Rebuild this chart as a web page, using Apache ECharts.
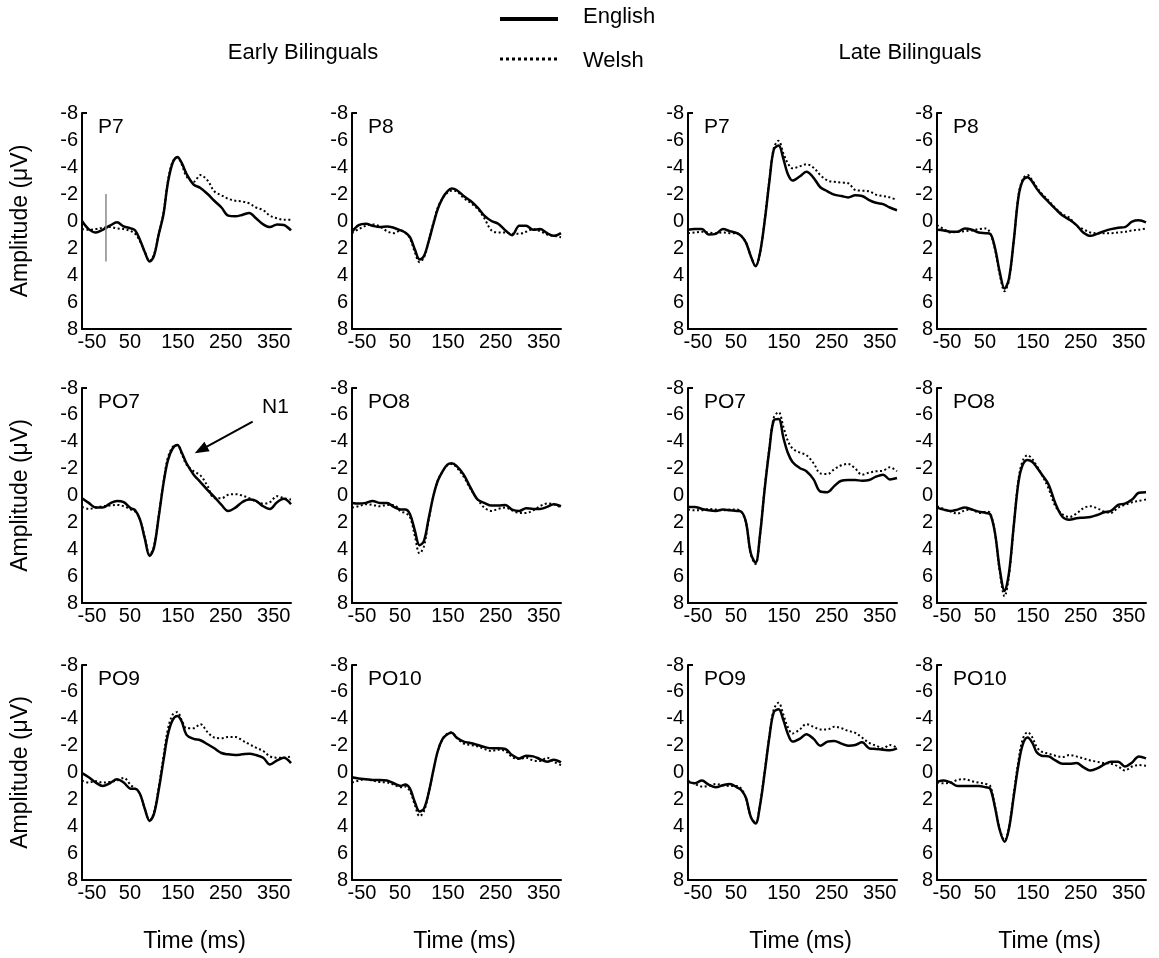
<!DOCTYPE html>
<html>
<head>
<meta charset="utf-8">
<script src="https://cdn.jsdelivr.net/npm/echarts@6/dist/echarts.min.js"></script>
<style>
  html, body { margin: 0; padding: 0; background: #fff; }
  #chart { width: 1159px; height: 958px; }
</style>
</head>
<body>
<div id="chart"></div>
<script>
// time points (ms) shared by every waveform
const TIMES = [-50, -36, -21, -7, 8, 23, 37, 52, 61, 71, 81, 91, 100, 110, 120, 129, 139, 149, 158, 168,
  183, 197, 212, 226, 241, 255, 270, 284, 299, 313, 328, 342, 357, 371, 386];
const X_TICKS = [-50, 50, 150, 250, 350];
const Y_TICKS = [-8, -6, -4, -2, 0, 2, 4, 6, 8];
const PANEL_NAMES = ['P7', 'P8', 'P7', 'P8', 'PO7', 'PO8', 'PO7', 'PO8', 'PO9', 'PO10', 'PO9', 'PO10'];
const GROUPS = ['Early Bilinguals', 'Late Bilinguals'];
const LANGS = ['English', 'Welsh'];
const ONSET_MARK = [[0, -2], [0, 3]];

// amplitudes (µV), negative up
const EARLY_P7_EN = [0, 0.6, 0.85, 0.65, 0.35, 0.1, 0.4, 0.55, 0.7, 1.4, 2.3, 3.0, 2.6, 1.0, -0.5, -2.8, -4.3, -4.75, -4.3, -3.5, -2.7, -2.45, -2.0, -1.5, -1.0, -0.4, -0.35, -0.45, -0.6, -0.2, 0.25, 0.45, 0.25, 0.3, 0.7];
const EARLY_P7_CY = [0.6, 0.65, 0.6, 0.5, 0.45, 0.55, 0.6, 0.75, 0.95, 1.5, 2.3, 2.95, 2.5, 1.0, -0.6, -2.9, -4.4, -4.7, -4.2, -3.3, -2.9, -3.4, -3.0, -2.2, -1.9, -1.65, -1.5, -1.45, -1.3, -1.0, -0.8, -0.4, -0.2, -0.1, -0.1];
const EARLY_P8_EN = [0.8, 0.3, 0.2, 0.35, 0.45, 0.4, 0.5, 0.7, 0.85, 1.2, 2.1, 2.85, 2.6, 1.5, 0.2, -0.9, -1.7, -2.2, -2.4, -2.3, -1.85, -1.5, -1.0, -0.4, 0.0, 0.2, 0.7, 1.05, 0.35, 0.35, 0.65, 0.6, 0.9, 1.1, 0.9];
const EARLY_P8_CY = [0.9, 0.6, 0.35, 0.25, 0.4, 0.75, 0.9, 0.7, 0.85, 1.3, 2.3, 3.05, 2.7, 1.5, 0.1, -1.0, -1.7, -2.1, -2.25, -2.2, -1.7, -1.35, -0.9, -0.2, 0.7, 0.85, 0.85, 0.95, 0.95, 0.8, 0.6, 0.75, 1.0, 1.1, 1.2];
const LATE_P7_EN = [0.65, 0.6, 0.6, 1.0, 0.95, 0.6, 0.75, 0.9, 1.1, 1.6, 2.6, 3.35, 2.4, 0.0, -3.0, -5.3, -5.6, -4.6, -3.5, -3.0, -3.3, -3.65, -3.2, -2.5, -2.2, -1.95, -1.85, -1.75, -1.9, -1.85, -1.55, -1.35, -1.25, -1.0, -0.8];
const LATE_P7_CY = [0.9, 0.85, 0.8, 0.85, 0.9, 0.85, 0.9, 0.9, 1.1, 1.6, 2.6, 3.35, 2.4, -0.1, -3.1, -5.4, -5.95, -5.0, -4.3, -3.9, -4.05, -4.2, -3.95, -3.4, -3.0, -2.9, -2.85, -2.8, -2.3, -2.25, -2.2, -1.95, -1.85, -1.75, -1.55];
const LATE_P8_EN = [0.65, 0.7, 0.8, 0.8, 0.55, 0.65, 0.85, 0.9, 0.95, 2.0, 3.8, 5.0, 4.3, 1.5, -1.8, -3.0, -3.25, -2.9, -2.4, -1.95, -1.4, -0.9, -0.4, -0.1, 0.3, 0.85, 1.1, 0.95, 0.75, 0.6, 0.5, 0.45, 0.05, -0.05, 0.1];
const LATE_P8_CY = [0.3, 0.6, 0.85, 0.8, 0.75, 0.7, 0.6, 0.55, 0.9, 2.1, 4.0, 5.2, 4.4, 1.5, -1.9, -3.1, -3.4, -3.0, -2.5, -2.05, -1.5, -0.95, -0.5, -0.25, 0.35, 0.6, 0.85, 0.9, 0.9, 0.9, 0.85, 0.8, 0.7, 0.65, 0.55];
const EARLY_PO7_EN = [0.2, 0.55, 0.9, 0.9, 0.6, 0.4, 0.5, 0.95, 1.1, 1.8, 3.2, 4.5, 3.9, 1.6, -0.9, -2.6, -3.5, -3.75, -3.2, -2.4, -1.55, -1.0, -0.4, 0.1, 0.7, 1.15, 0.9, 0.5, 0.3, 0.4, 0.8, 1.0, 0.5, 0.25, 0.65];
const EARLY_PO7_CY = [0.85, 1.0, 0.9, 0.8, 0.75, 0.7, 0.8, 1.05, 1.2, 1.8, 3.1, 4.4, 3.8, 1.5, -1.0, -2.8, -3.6, -3.75, -3.1, -2.3, -1.8, -1.5, -0.7, 0.2, 0.2, -0.05, -0.1, 0.0, 0.2, 0.45, 0.6, 0.5, 0.05, 0.2, 0.3];
const EARLY_PO8_EN = [0.55, 0.6, 0.55, 0.4, 0.55, 0.55, 0.85, 1.05, 1.05, 1.4, 2.6, 3.7, 3.4, 1.7, 0.0, -1.1, -1.8, -2.3, -2.4, -2.2, -1.55, -0.6, 0.3, 0.55, 0.75, 0.75, 0.7, 1.05, 1.15, 0.95, 1.0, 1.0, 0.85, 0.65, 0.8];
const EARLY_PO8_CY = [0.9, 0.8, 0.65, 0.7, 0.8, 0.7, 0.7, 1.2, 1.3, 1.6, 3.0, 4.3, 3.8, 1.8, 0.0, -1.1, -1.8, -2.25, -2.35, -2.1, -1.4, -0.5, 0.3, 0.9, 1.15, 1.0, 0.9, 1.1, 1.3, 1.3, 1.1, 0.8, 0.6, 0.65, 0.9];
const LATE_PO7_EN = [0.85, 0.85, 1.0, 1.1, 1.15, 1.05, 1.1, 1.15, 1.2, 2.0, 4.3, 5.0, 3.0, -0.5, -3.5, -5.6, -5.7, -4.3, -3.2, -2.5, -2.05, -1.8, -1.2, -0.3, -0.25, -0.7, -1.1, -1.15, -1.15, -1.1, -1.15, -1.4, -1.55, -1.2, -1.3];
const LATE_PO7_CY = [1.05, 1.1, 1.1, 1.0, 1.05, 1.1, 1.05, 1.05, 1.2, 2.0, 4.4, 5.1, 3.0, -0.6, -3.6, -5.8, -6.2, -5.1, -4.1, -3.5, -3.2, -3.0, -2.4, -1.65, -1.6, -1.95, -2.25, -2.35, -2.0, -1.55, -1.7, -1.8, -1.85, -2.1, -1.8];
const LATE_PO8_EN = [0.9, 1.05, 1.15, 1.05, 0.9, 1.05, 1.2, 1.3, 1.4, 2.8, 5.5, 7.1, 5.8, 2.3, -1.0, -2.3, -2.65, -2.5, -2.1, -1.6, -0.8, 0.6, 1.6, 1.8, 1.7, 1.65, 1.6, 1.45, 1.25, 1.15, 0.7, 0.6, 0.3, -0.2, -0.25];
const LATE_PO8_CY = [0.8, 1.0, 1.2, 1.35, 1.1, 1.05, 1.3, 1.2, 1.3, 2.8, 5.7, 7.5, 6.0, 2.3, -1.2, -2.6, -3.0, -2.7, -2.2, -1.6, -0.5, 0.8, 1.4, 1.6, 1.35, 0.95, 0.8, 0.95, 1.2, 1.3, 0.9, 0.7, 0.5, 0.4, 0.3];
const EARLY_PO9_EN = [0.05, 0.35, 0.75, 1.0, 0.8, 0.5, 0.75, 1.2, 1.2, 1.6, 2.7, 3.6, 3.1, 1.3, -0.9, -2.8, -3.9, -4.2, -3.8, -2.8, -2.5, -2.4, -2.1, -1.8, -1.45, -1.35, -1.3, -1.35, -1.4, -1.3, -1.1, -0.6, -0.9, -1.1, -0.7];
const EARLY_PO9_CY = [0.6, 0.75, 0.65, 0.75, 0.7, 0.6, 0.4, 0.95, 1.2, 1.6, 2.7, 3.55, 3.0, 1.1, -1.2, -3.2, -4.3, -4.5, -3.9, -3.3, -3.3, -3.6, -3.0, -2.6, -2.55, -2.65, -2.65, -2.4, -2.1, -1.85, -1.6, -1.2, -1.1, -1.1, -1.2];
const EARLY_PO10_EN = [0.35, 0.45, 0.5, 0.55, 0.55, 0.6, 0.8, 1.0, 0.9, 1.2, 2.2, 2.9, 2.7, 1.5, -0.2, -1.6, -2.5, -2.85, -2.95, -2.6, -2.3, -2.2, -2.05, -1.9, -1.8, -1.8, -1.75, -1.3, -1.05, -1.25, -1.2, -1.0, -0.8, -0.95, -0.75];
const EARLY_PO10_CY = [0.75, 0.6, 0.5, 0.6, 0.7, 0.75, 0.9, 1.1, 1.05, 1.4, 2.4, 3.25, 2.9, 1.5, -0.2, -1.6, -2.5, -2.9, -3.0, -2.6, -2.15, -2.05, -1.95, -1.75, -1.6, -1.7, -1.6, -1.15, -1.0, -1.1, -0.9, -0.85, -1.1, -0.8, -0.55];
const LATE_PO9_EN = [0.7, 0.8, 0.6, 0.9, 1.1, 0.95, 0.85, 1.1, 1.3, 1.9, 3.3, 3.8, 2.5, 0.0, -2.7, -4.5, -4.7, -3.9, -2.9, -2.3, -2.5, -2.85, -2.5, -2.0, -2.3, -2.35, -2.15, -2.0, -2.05, -2.25, -1.8, -1.75, -1.7, -1.65, -1.8];
const LATE_PO9_CY = [0.6, 0.85, 1.05, 1.0, 0.85, 0.95, 1.0, 1.0, 1.2, 1.9, 3.3, 3.75, 2.4, -0.1, -2.8, -4.7, -5.2, -4.3, -3.4, -2.9, -3.2, -3.6, -3.4, -3.2, -3.2, -3.4, -3.3, -3.1, -2.95, -2.6, -2.2, -2.0, -1.8, -2.05, -1.85];
const LATE_PO10_EN = [0.7, 0.6, 0.75, 1.0, 1.0, 1.0, 1.0, 1.1, 1.2, 2.6, 4.3, 5.15, 4.2, 1.8, -0.6, -2.1, -2.6, -2.2, -1.5, -1.25, -1.2, -0.9, -0.65, -0.65, -0.7, -0.4, -0.15, -0.3, -0.6, -0.8, -0.8, -0.45, -0.75, -1.2, -1.05];
const LATE_PO10_CY = [0.75, 0.8, 0.75, 0.55, 0.5, 0.65, 0.75, 0.85, 1.0, 2.5, 4.2, 5.05, 4.1, 1.6, -0.9, -2.5, -3.0, -2.6, -1.9, -1.55, -1.4, -1.25, -1.15, -1.3, -1.2, -1.05, -0.9, -0.8, -0.7, -0.65, -0.45, -0.15, -0.45, -0.55, -0.5];

// row-major, 4 panels per row
const PANEL_DATA = [
  [EARLY_P7_EN, EARLY_P7_CY], [EARLY_P8_EN, EARLY_P8_CY], [LATE_P7_EN, LATE_P7_CY], [LATE_P8_EN, LATE_P8_CY],
  [EARLY_PO7_EN, EARLY_PO7_CY], [EARLY_PO8_EN, EARLY_PO8_CY], [LATE_PO7_EN, LATE_PO7_CY], [LATE_PO8_EN, LATE_PO8_CY],
  [EARLY_PO9_EN, EARLY_PO9_CY], [EARLY_PO10_EN, EARLY_PO10_CY], [LATE_PO9_EN, LATE_PO9_CY], [LATE_PO10_EN, LATE_PO10_CY],
];

const COL_LEFT = [82, 352, 688, 937];
const ROW_TOP = [113, 388, 665];
const PANEL_W = 209;
const PANEL_H = 216;
const FONT = '"Liberation Sans", Arial, sans-serif';
const DOT = [2, 2.5];
const X_END = TIMES[TIMES.length - 1];

const chart = echarts.init(document.getElementById('chart'));

const grid = [], xAxis = [], yAxis = [], series = [], graphic = [];

PANEL_DATA.forEach(([en, cy], i) => {
  const row = Math.floor(i / 4), col = i % 4;
  grid.push({ left: COL_LEFT[col], top: ROW_TOP[row], width: PANEL_W, height: PANEL_H - (row ? 1 : 0) });

  xAxis.push({
    gridIndex: i,
    type: 'value',
    min: X_TICKS[0],
    max: X_END,
    interval: 100,
    splitLine: { show: false },
    // only a short end stub, as in the original
    axisTick: { show: true, inside: true, length: 5, customValues: [X_END], lineStyle: { color: '#000', width: 2 } },
    axisLine: { onZero: false, lineStyle: { color: '#000', width: 2 } },
    axisLabel: {
      color: '#000', fontSize: 20, fontFamily: FONT, margin: 3,
      showMaxLabel: false,
      formatter: v => (v === X_TICKS[0] ? '{first|' + v + '}' : String(v)),
      rich: { first: { fontSize: 20, fontFamily: FONT, color: '#000', padding: [0, 0, 0, 20] } },
    },
    name: row === 2 ? 'Time (ms)' : '',
    nameLocation: 'middle',
    nameGap: 50,
    nameTextStyle: { color: '#000', fontSize: 23, fontFamily: FONT, padding: [0, 0, 0, 16] },
  });

  yAxis.push({
    gridIndex: i,
    type: 'value',
    inverse: true,
    min: Y_TICKS[0],
    max: Y_TICKS[Y_TICKS.length - 1],
    interval: 2,
    splitLine: { show: false },
    axisTick: { show: true, inside: true, length: 5, customValues: [Y_TICKS[0]], lineStyle: { color: '#000', width: 2 } },
    axisLine: { onZero: false, lineStyle: { color: '#000', width: 2 } },
    axisLabel: { color: '#000', fontSize: 20, fontFamily: FONT, margin: 4 },
    name: col === 0 ? 'Amplitude (μV)' : '',
    nameLocation: 'middle',
    nameRotate: 90,
    nameGap: 50,
    nameTextStyle: { color: '#000', fontSize: 23, fontFamily: FONT },
  });

  series.push({
    name: LANGS[1], type: 'line', xAxisIndex: i, yAxisIndex: i,
    data: TIMES.map((t, k) => [t, cy[k]]),
    smooth: 0.35, symbol: 'none', silent: true,
    lineStyle: { color: '#000', width: 2, type: DOT },
  });
  const english = {
    name: LANGS[0], type: 'line', xAxisIndex: i, yAxisIndex: i,
    data: TIMES.map((t, k) => [t, en[k]]),
    smooth: 0.35, symbol: 'none', silent: true,
    lineStyle: { color: '#000', width: 2.5 },
  };
  if (i === 4) {
    // N1 arrow
    english.markLine = {
      silent: true,
      symbol: ['none', 'triangle'],
      symbolSize: [11, 14],
      label: { show: false },
      lineStyle: { color: '#000', width: 2, type: 'solid' },
      data: [[{ coord: [306, -5.5] }, { coord: [198, -3.4] }]],
    };
  }
  series.push(english);

  graphic.push({
    type: 'text', left: COL_LEFT[col] + 16, top: ROW_TOP[row] + 4,
    style: { text: PANEL_NAMES[i], fontSize: 21, fontFamily: FONT, fill: '#000' },
  });
});

// stimulus onset marker in first panel
series.push({
  name: 'onset', type: 'line', xAxisIndex: 0, yAxisIndex: 0,
  data: ONSET_MARK, symbol: 'none', silent: true,
  lineStyle: { color: '#888', width: 1.5 },
});

graphic.push(
  { type: 'text', left: 262, top: 397, style: { text: 'N1', fontSize: 21, fontFamily: FONT, fill: '#000' } },
  // key
  { type: 'line', shape: { x1: 500, y1: 19, x2: 558, y2: 19 }, style: { stroke: '#000', lineWidth: 4 } },
  { type: 'line', shape: { x1: 500, y1: 59, x2: 558, y2: 59 }, style: { stroke: '#000', lineWidth: 3, lineDash: [3, 3] } },
  { type: 'text', left: 583, top: 6, style: { text: LANGS[0], fontSize: 22, fontFamily: FONT, fill: '#000' } },
  { type: 'text', left: 583, top: 50, style: { text: LANGS[1], fontSize: 22, fontFamily: FONT, fill: '#000' } },
);

chart.setOption({
  backgroundColor: '#fff',
  animation: false,
  title: [
    { text: GROUPS[0], left: 298, top: 37, textAlign: 'center',
      textStyle: { fontSize: 22, fontWeight: 'normal', fontFamily: FONT, color: '#000' } },
    { text: GROUPS[1], left: 905, top: 37, textAlign: 'center',
      textStyle: { fontSize: 22, fontWeight: 'normal', fontFamily: FONT, color: '#000' } },
  ],
  grid, xAxis, yAxis, series, graphic,
});
</script>
</body>
</html>
